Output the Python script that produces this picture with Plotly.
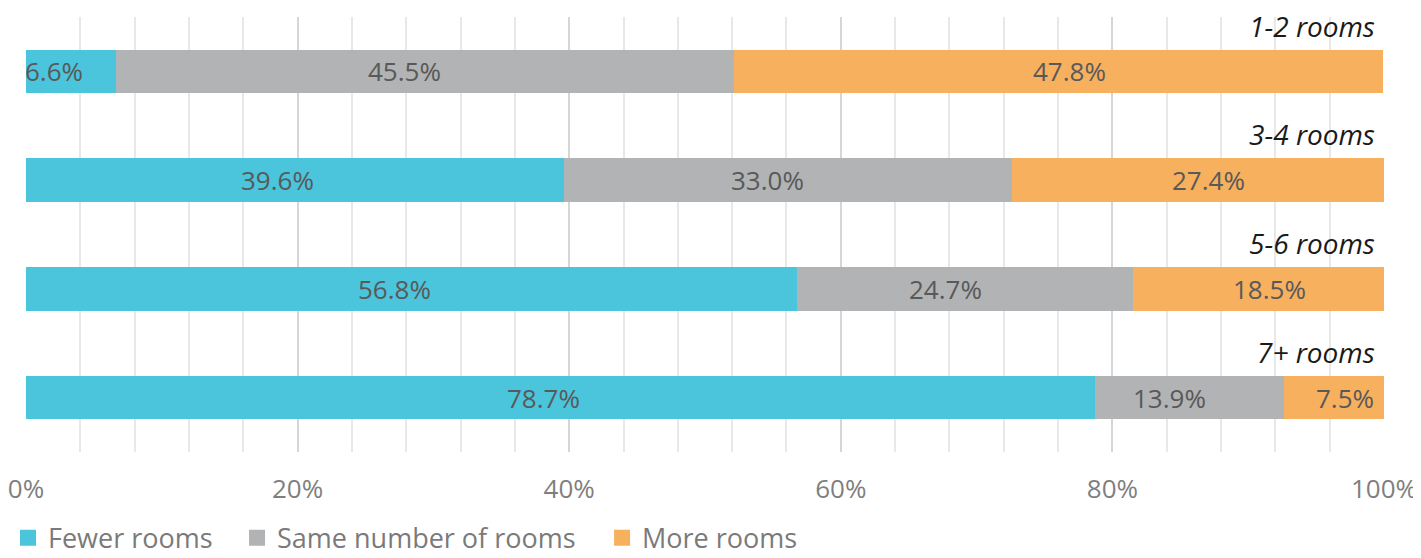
import plotly.graph_objects as go

categories = ["1-2 rooms", "3-4 rooms", "5-6 rooms", "7+ rooms"]
fewer = [6.6, 39.6, 56.8, 78.7]
same = [45.5, 33.0, 24.7, 13.9]
more = [47.8, 27.4, 18.5, 7.5]
series_names = ["Fewer rooms", "Same number of rooms", "More rooms"]
colors = ["#4BC5DC", "#B1B3B4", "#F7B05E"]
tick_vals = [0, 20, 40, 60, 80, 100]
tick_text = ["0%", "20%", "40%", "60%", "80%", "100%"]

FONT = "Open Sans"
LABEL_COLOR = "#595959"
LABEL_SHIFT = [-17, -20, 11]  # horizontal nudge of value labels per series (px)
ypos = list(range(len(categories)))
series = [fewer, same, more]

fig = go.Figure()
for name, vals, col in zip(series_names, series, colors):
    fig.add_trace(go.Bar(
        y=ypos, x=vals, name=name, orientation="h",
        marker=dict(color=col, line=dict(width=0)),
        width=0.4, hoverinfo="skip", showlegend=False,
    ))

# value labels at the centre of each stacked segment
starts = [0.0] * len(categories)
for vals, shift in zip(series, LABEL_SHIFT):
    for i, v in enumerate(vals):
        fig.add_annotation(
            x=starts[i] + v / 2, y=ypos[i], xref="x", yref="y",
            text=f"{v:.1f}%", showarrow=False,
            xanchor="center", yanchor="middle", xshift=shift,
            font=dict(family=FONT, size=26, color=LABEL_COLOR),
        )
        starts[i] += v

# category labels above bars
for i, c in enumerate(categories):
    fig.add_annotation(
        x=100, y=i - 0.42, xref="x", yref="y", text=c, showarrow=False,
        xanchor="right", yanchor="middle", xshift=-7,
        font=dict(family=FONT, size=28, color="#1a1a1a", style="italic"),
    )

# legend entries (one legend per entry for exact placement)
legend_x = [-0.014, 0.1554, 0.4242]
legend_ids = ["legend", "legend2", "legend3"]
for name, col, lid in zip(series_names, colors, legend_ids):
    fig.add_trace(go.Scatter(
        x=[None], y=[None], mode="markers", name=name,
        marker=dict(symbol="square", size=16, color=col, line=dict(width=0)),
        legend=lid, showlegend=True, hoverinfo="skip",
    ))

legend_common = dict(
    orientation="h", xanchor="left", yref="container", y=0.036, yanchor="middle",
    font=dict(family=FONT, size=27, color="#7a7a7a"),
    bgcolor="rgba(0,0,0,0)", borderwidth=0,
)

# page body has an 8px default margin: the figure is sized to fit the window
fig.update_layout(
    barmode="stack",
    width=1413, height=550,
    margin=dict(l=18, r=37, t=9, b=106),
    plot_bgcolor="white", paper_bgcolor="white",
    legend=dict(x=legend_x[0], **legend_common),
    legend2=dict(x=legend_x[1], **legend_common),
    legend3=dict(x=legend_x[2], **legend_common),
    xaxis=dict(
        range=[0, 100], tickvals=tick_vals, ticktext=tick_text,
        showgrid=True, gridcolor="#d6d6d6", gridwidth=2,
        minor=dict(dtick=4, showgrid=True, gridcolor="#e8e8e8", gridwidth=2),
        zeroline=False, showline=False, automargin=False,
        ticklabeloverflow="allow",
        tickfont=dict(family=FONT, size=26, color="#7f7f7f"),
        ticklabelstandoff=19, fixedrange=True,
    ),
    yaxis=dict(
        range=[3.5, -0.5], showticklabels=False, showgrid=False,
        zeroline=False, showline=False, fixedrange=True, automargin=False,
    ),
    font=dict(family=FONT),
)

fig.write_html("out.html")
